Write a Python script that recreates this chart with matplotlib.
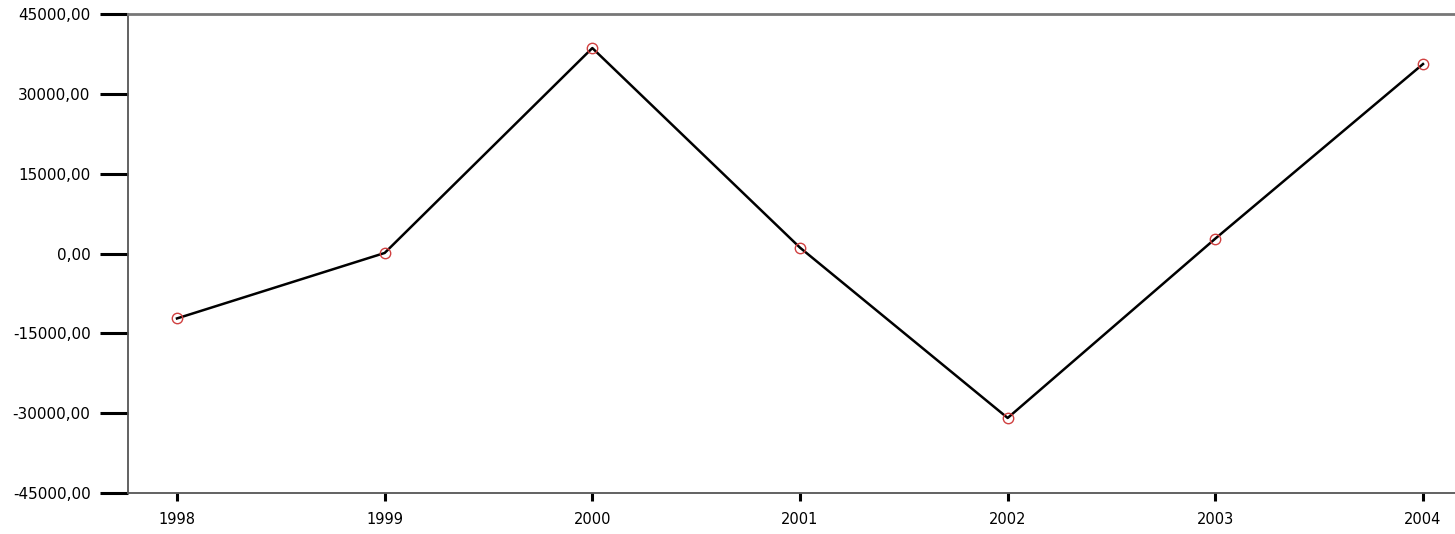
import matplotlib
matplotlib.use("Agg")
import matplotlib.pyplot as plt
from matplotlib.ticker import FuncFormatter

years = [1998, 1999, 2000, 2001, 2002, 2003, 2004]
values = [-12200, 100, 38600, 1100, -30900, 2800, 35600]
yticks = [-45000, -30000, -15000, 0, 15000, 30000, 45000]

plt.rcParams['font.family'] = ['DejaVu Sans']

fig = plt.figure(figsize=(14.55, 5.34), dpi=100)
ax = fig.add_axes([128/1455, 41/534, 1 - 128/1455, 479/534])

ax.plot(years, values, color='black', linewidth=1.8, zorder=2)
ax.plot(years, values, linestyle='none', marker='o', markersize=7.5,
        markerfacecolor='none', markeredgecolor='#d04040', markeredgewidth=1.0, zorder=3)

ax.set_ylim(-45000, 45000)
ax.set_xlim(1998 - 49/207.7, 2004 + 32/207.7)
ax.set_yticks(yticks)
ax.set_xticks(years)
ax.yaxis.set_major_formatter(FuncFormatter(lambda v, p: ('%.2f' % v).replace('.', ',')))

for s in ['left', 'bottom', 'top']:
    ax.spines[s].set_color('#555555')
    ax.spines[s].set_linewidth(1.3)
ax.spines['top'].set_color('#777777')
ax.spines['top'].set_linewidth(2)
ax.spines['right'].set_visible(False)

ax.tick_params(axis='y', direction='out', length=20, width=2.2, color='black',
               labelsize=11, pad=7)
ax.tick_params(axis='x', direction='out', length=6, width=2.2, color='black',
               labelsize=10.5, pad=8)

fig.savefig('out.png', dpi=100)
